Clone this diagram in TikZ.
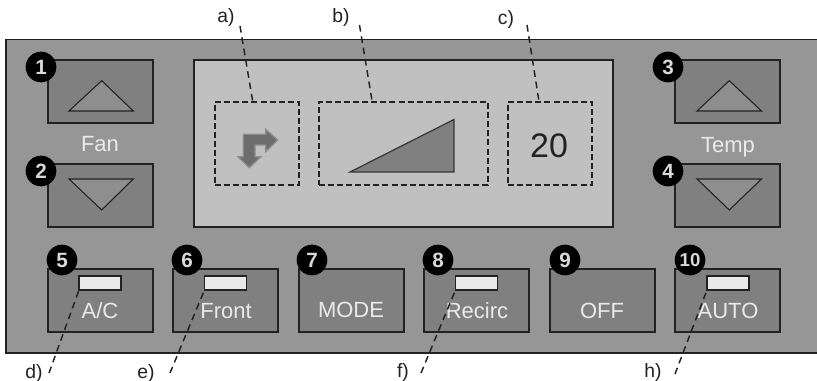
\documentclass[tikz,border=0pt]{standalone}
\usepackage{fontspec}
\setmainfont{Liberation Sans}
\usetikzlibrary{calc}
\definecolor{panelgray}{HTML}{969696}
\definecolor{btngray}{HTML}{808080}
\definecolor{dispgray}{HTML}{C0C0C0}
\definecolor{tri}{HTML}{8E8E8E}
\definecolor{lite}{HTML}{EAEAEA}
\definecolor{ink}{HTML}{222222}
\tikzset{
 x=0.75pt,y=-0.75pt,
 btn/.style={draw=ink,line width=1.1pt,fill=btngray,minimum width=78.75pt,minimum height=47.25pt,inner sep=0pt,outer sep=0pt},
 btntext/.style={text=lite,font=\fontsize{16.5}{17}\selectfont,inner sep=0pt},
 led/.style={draw=ink,line width=1.1pt,fill=lite,minimum width=31.5pt,minimum height=10.5pt,inner sep=0pt,outer sep=0pt},
 zone/.style={draw=ink,line width=0.9pt,dash pattern=on 4.5pt off 2.3pt,minimum height=62.25pt,inner sep=0pt,outer sep=0pt},
 badge/.style={circle,fill=black,minimum size=23pt,inner sep=0pt,text=dispgray!60!white,font=\bfseries\fontsize{15.5}{15.5}\selectfont},
 lead/.style={draw=ink,line width=1.1pt,dash pattern=on 5pt off 3.6pt},
 callout/.style={text=ink,font=\fontsize{14.5}{15}\selectfont,inner sep=0pt},
 arrowtri/.style={draw=ink,line width=0.8pt,fill=tri,line join=miter},
}
\begin{document}
\begin{tikzpicture}
\useasboundingbox (0,0) rectangle (817,381);
\fill[white] (0,0) rectangle (817,381);
% panel
\path[draw=ink,line width=1.1pt,fill=panelgray] (817,39.5) -- (6,39.5) -- (6,353) -- (817,353);
% display
\node[draw=ink,line width=1.1pt,fill=dispgray,minimum width=314.25pt,minimum height=125.25pt,inner sep=0pt,outer sep=0pt] (disp) at (403.5,143.5) {};
% buttons
\node[btn] (b1) at (100.5,91.5) {};
\node[btn] (b2) at (100.5,195.5) {};
\node[btn] (b3) at (727.5,91.5) {};
\node[btn] (b4) at (727.5,195.5) {};
\node[btn] (b5) at (100.5,300.5) {};
\node[btn] (b6) at (225.5,300.5) {};
\node[btn] (b7) at (351.5,300.5) {};
\node[btn] (b8) at (476.5,300.5) {};
\node[btn] (b9) at (602.5,300.5) {};
\node[btn] (b10) at (727.5,300.5) {};
% triangles
\draw[arrowtri] (69,111) -- (101.7,80.7) -- (133.3,111) -- cycle;
\draw[arrowtri] (69,179) -- (101.7,210) -- (133.3,179) -- cycle;
\draw[arrowtri] (697,111) -- (729.3,80.7) -- (761.5,111) -- cycle;
\draw[arrowtri] (697,179) -- (729.3,210) -- (761.5,179) -- cycle;
% labels
\node[btntext] (fan) at (100,144) {Fan};
\node[btntext] (temp) at (728,147) {Temp};
% zones
\node[zone,minimum width=63pt] (za) at (257,143.5) {};
\node[zone,minimum width=126.75pt] (zb) at (403.5,143.5) {};
\node[zone,minimum width=63pt] (zc) at (550,143.5) {};
% turn icon
\draw[draw=tri,line width=1pt,fill=btngray!85!black,line join=miter] (277.7,140) -- (265.7,129.3) -- (265.7,134.3) -- (243.3,134.3) -- (243.3,156.7) -- (238,156.7) -- (249.3,167.7) -- (261,156.7) -- (255,156.7) -- (255,145) -- (265.7,145) -- (265.7,151.7) -- cycle;
% wedge
\draw[draw=ink!80!gray,line width=0.9pt,fill=btngray] (350,172) -- (454,119.5) -- (454,172) -- cycle;
\node[text=ink,font=\fontsize{25.5}{26}\selectfont,inner sep=0pt] (val) at (549,146) {20};
% LEDs
\node[led] (l5) at (100,283) {};
\node[led] (l6) at (225.5,283) {};
\node[led] (l8) at (476.5,283) {};
\node[led] (l10) at (728,283) {};
% button text
\node[btntext] (t5) at (100,311) {A/C};
\node[btntext] (t6) at (226,311) {Front};
\node[btntext] (t7) at (351,310) {MODE};
\node[btntext] (t8) at (477,311) {Recirc};
\node[btntext] (t9) at (602,311) {OFF};
\node[btntext] (t10) at (728,311) {AUTO};
% badges
\node[badge] (n1) at (41,67) {1};
\node[badge] (n2) at (41,171) {2};
\node[badge] (n3) at (668,67) {3};
\node[badge] (n4) at (668,171) {4};
\node[badge] (n5) at (62,260) {5};
\node[badge] (n6) at (187,260) {6};
\node[badge] (n7) at (312,260) {7};
\node[badge] (n8) at (438,260) {8};
\node[badge] (n9) at (565,260) {9};
\node[badge,font=\bfseries\fontsize{14}{14}\selectfont] (n10) at (690,260) {10};
% callouts
\node[callout] (la) at (226,17) {a)};
\node[callout] (lb) at (341,17) {b)};
\node[callout] (lc) at (506,19) {c)};
\node[callout] (ld) at (34,373) {d)};
\node[callout] (le) at (146,373) {e)};
\node[callout] (lf) at (403,372) {f)};
\node[callout] (lh) at (653,372) {h)};
\coordinate (ca) at (240,26);
\coordinate (cb) at (359.5,25);
\coordinate (cc) at (527,25);
\coordinate (cd) at (49,373);
\coordinate (ce) at (170,373);
\coordinate (cf) at (421,373);
\coordinate (ch) at (675,374);
\draw[lead] (ca) -- ($(za.north west)!0.45!(za.north east)$);
\draw[lead] (cb) -- ($(zb.north west)!0.315!(zb.north east)$);
\draw[lead] (cc) -- ($(zc.north west)!0.37!(zc.north east)$);
\draw[lead] (cd) -- (l5.south west);
\draw[lead] (ce) -- (l6.south west);
\draw[lead] (cf) -- (l8.south west);
\draw[lead] (ch) -- (l10.south west);
\end{tikzpicture}
\end{document}
